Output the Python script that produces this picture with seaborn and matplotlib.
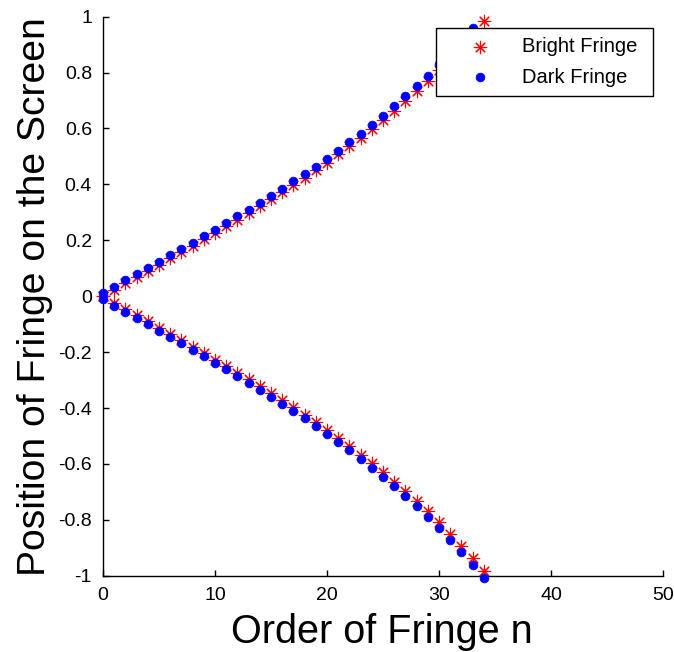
import matplotlib
matplotlib.use("Agg")
import matplotlib.pyplot as plt
import seaborn as sns
import pandas as pd
from matplotlib.ticker import FuncFormatter

# Fringe orders
orders_bright = list(range(0, 35))
orders_dark = list(range(0, 35))

# Positions of the bright fringes (upper branch; the lower branch mirrors it)
bright_pos = [0.000, 0.023, 0.046, 0.068, 0.090, 0.113, 0.135, 0.158, 0.181, 0.204,
              0.227, 0.250, 0.274, 0.298, 0.322, 0.347, 0.372, 0.398, 0.424, 0.451,
              0.478, 0.507, 0.536, 0.567, 0.598, 0.630, 0.663, 0.698, 0.733, 0.770,
              0.809, 0.850, 0.893, 0.937, 0.983]

# Positions of the dark fringes
dark_pos = [0.011, 0.034, 0.057, 0.079, 0.101, 0.124, 0.146, 0.169, 0.192, 0.215,
            0.238, 0.262, 0.286, 0.310, 0.334, 0.359, 0.385, 0.411, 0.437, 0.464,
            0.492, 0.521, 0.551, 0.582, 0.613, 0.646, 0.680, 0.715, 0.751, 0.789,
            0.829, 0.871, 0.914, 0.960, 1.007]

x_ticks = [0, 10, 20, 30, 40, 50]
y_ticks = [-1, -0.8, -0.6, -0.4, -0.2, 0, 0.2, 0.4, 0.6, 0.8, 1]

sns.set_theme(style="white")
plt.rcParams["font.family"] = ["Liberation Sans", "DejaVu Sans"]
plt.rcParams["axes.unicode_minus"] = False
plt.rcParams["text.color"] = "black"

bright_df = pd.DataFrame({
    "n": orders_bright + orders_bright,
    "y": bright_pos + [-v for v in bright_pos],
})
dark_df = pd.DataFrame({
    "n": orders_dark + orders_dark,
    "y": dark_pos + [-v for v in dark_pos],
})
# points beyond the upper limit are not shown
dark_df = dark_df[dark_df["y"] <= 1.0]

fig = plt.figure(figsize=(6.74, 6.52), dpi=100)
ax = fig.add_axes([0.1528, 0.1170, 0.8309, 0.8574])

sns.scatterplot(data=bright_df, x="n", y="y", ax=ax, marker=(8, 2, 0), s=80,
                color="#ff0000", linewidth=0.8, label="Bright Fringe",
                clip_on=False, zorder=3)
sns.scatterplot(data=dark_df, x="n", y="y", ax=ax, marker="o", s=40,
                color="#0000ff", edgecolor="#0000ff", linewidth=0.5,
                label="Dark Fringe", clip_on=False, zorder=4)

ax.set_xlim(0, 50)
ax.set_ylim(-1, 1)
ax.set_xticks(x_ticks)
ax.set_yticks(y_ticks)
ax.yaxis.set_major_formatter(FuncFormatter(lambda v, p: f"{v:g}"))
ax.xaxis.set_major_formatter(FuncFormatter(lambda v, p: f"{v:g}"))

for side in ("top", "right"):
    ax.spines[side].set_visible(False)
for side in ("left", "bottom"):
    ax.spines[side].set_color("black")
    ax.spines[side].set_linewidth(1.0)

ax.tick_params(axis="both", which="major", direction="in", length=4, width=1,
               color="black", labelsize=14, labelcolor="black", pad=8,
               left=True, bottom=True)

ax.set_xlabel("Order of Fringe n", fontsize=28.5, color="black",
              va="baseline")
ax.xaxis.set_label_coords(0.498, -0.1204)
ax.set_ylabel("Position of Fringe on the Screen", fontsize=28.2, color="black",
              labelpad=4)

leg = ax.legend(loc="upper left", bbox_to_anchor=(0.5946, 0.856, 0.3875, 0.123),
                mode="expand", fontsize=14.5, frameon=True, fancybox=False,
                framealpha=1, edgecolor="black", borderpad=0.45,
                labelspacing=0.55, handletextpad=0.3, borderaxespad=0,
                handlelength=3.5)
leg.get_frame().set_linewidth(1.0)
leg.set_zorder(5)
for txt in leg.get_texts():
    txt.set_color("black")

fig.savefig("out.png", dpi=100)
